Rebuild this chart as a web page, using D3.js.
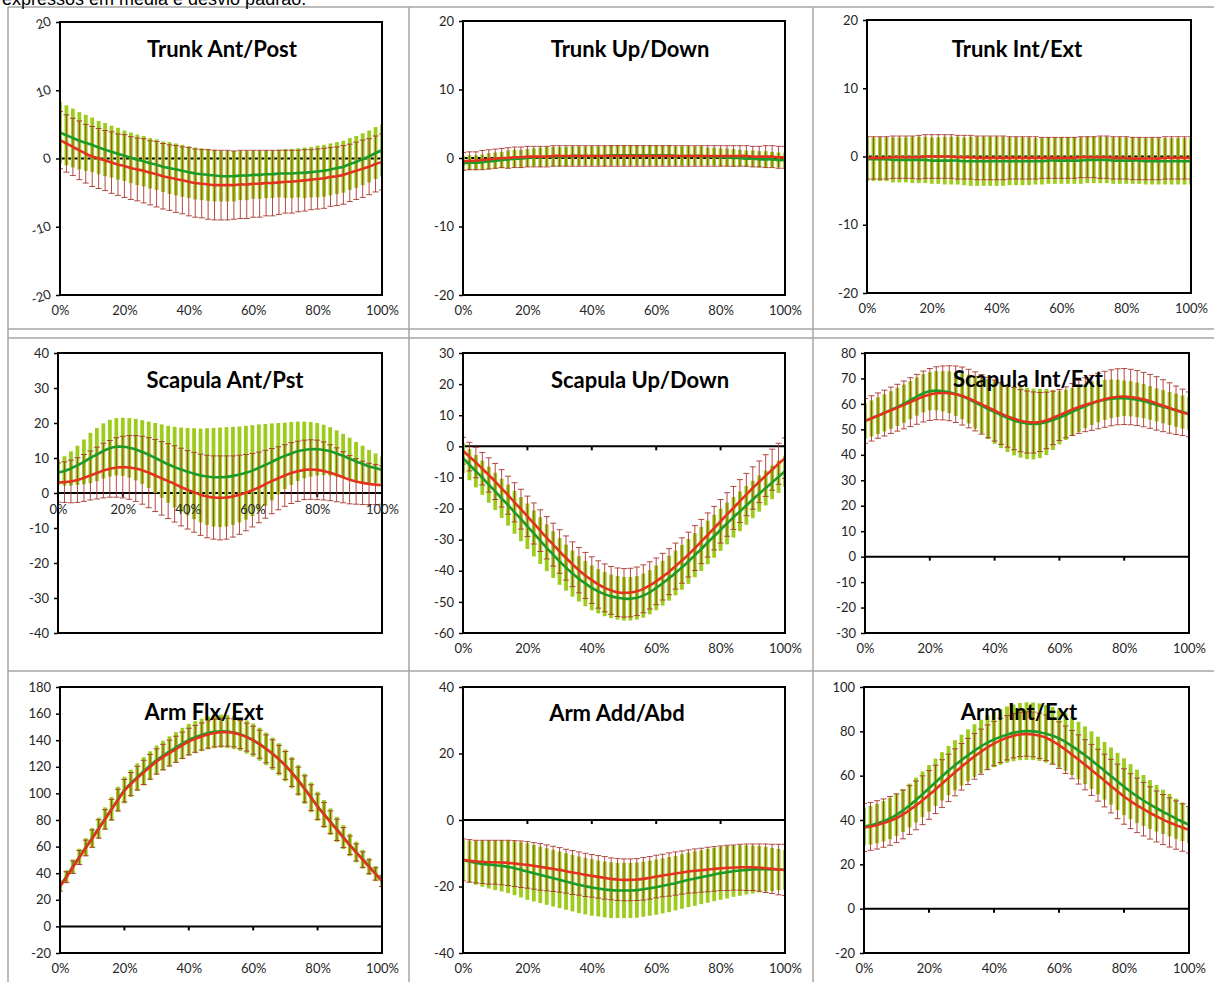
<!DOCTYPE html>
<html>
<head>
<meta charset="utf-8">
<script src="https://cdn.jsdelivr.net/npm/d3@7"></script>
<style>
    body { margin: 0; background: #fff; }
    svg { display: block; }
    .tick text { font-family: Lato, 'Open Sans', sans-serif; font-size: 13px; fill: #262626; }
    .panel-title { font-family: Lato, sans-serif; font-weight: bold; font-size: 22px; fill: #000; }
    .caption { font-family: 'Liberation Sans', Arial, sans-serif; font-size: 18px; fill: #000; }
</style>
</head>
<body>
<svg id="chart" width="1214" height="982"></svg>
<script>
// cycle percentage of each sample
const pctSteps = [0,2,4,6,8,10,12,14,16,18,20,22,24,26,28,30,32,34,36,38,40,42,44,46,48,50,
    52,54,56,58,60,62,64,66,68,70,72,74,76,78,80,82,84,86,88,90,92,94,96,98,100];
const xTickValues = [0, 20, 40, 60, 80, 100];
const xTickLabels = ['0%', '20%', '40%', '60%', '80%', '100%'];

const panelTitles = ['Trunk Ant/Post', 'Trunk Up/Down', 'Trunk Int/Ext',
    'Scapula Ant/Pst', 'Scapula Up/Down', 'Scapula Int/Ext',
    'Arm Flx/Ext', 'Arm Add/Abd', 'Arm Int/Ext'];
const panelYDomains = [[-20, 20], [-20, 20], [-20, 20], [-40, 40], [-60, 30], [-30, 80], [-20, 180], [-40, 40], [-20, 100]];
const panelYSteps = [10, 10, 10, 10, 10, 10, 20, 20, 20];

// Trunk Ant/Post
const trunkAPGreenMean = [3.8,3.4,3.0,2.6,2.3,2.0,1.6,1.3,1.0,0.7,0.4,0.1,-0.2,-0.4,-0.7,-0.9,-1.2,-1.4,-1.6,-1.8,
    -2.0,-2.2,-2.3,-2.4,-2.5,-2.6,-2.6,-2.6,-2.5,-2.5,-2.4,-2.4,-2.3,-2.3,-2.2,-2.2,-2.2,-2.1,-2.1,-2.0,
    -1.9,-1.8,-1.6,-1.4,-1.2,-0.8,-0.5,-0.1,0.3,0.8,1.2];
const trunkAPGreenSd = [4.5,4.4,4.3,4.2,4.1,4.0,3.9,3.9,3.8,3.8,3.7,3.7,3.7,3.7,3.7,3.7,3.7,3.8,3.8,3.8,
    3.8,3.8,3.8,3.8,3.8,3.7,3.7,3.7,3.6,3.6,3.5,3.5,3.5,3.5,3.5,3.6,3.6,3.6,3.7,3.7,
    3.8,3.8,3.8,3.8,3.8,3.8,3.8,3.8,3.8,3.8,3.8];
const trunkAPRedMean = [2.7,2.2,1.7,1.2,0.7,0.3,0.0,-0.3,-0.6,-0.9,-1.1,-1.4,-1.6,-1.8,-2.1,-2.3,-2.6,-2.8,-3.0,-3.2,
    -3.4,-3.6,-3.7,-3.8,-3.9,-3.9,-3.9,-3.9,-3.8,-3.8,-3.7,-3.7,-3.6,-3.6,-3.5,-3.4,-3.4,-3.3,-3.2,-3.1,
    -3.0,-2.9,-2.7,-2.6,-2.4,-2.1,-1.8,-1.5,-1.2,-0.8,-0.5];
const trunkAPRedSd = [4.2,4.2,4.2,4.3,4.3,4.4,4.4,4.4,4.5,4.5,4.6,4.6,4.6,4.7,4.7,4.8,4.8,4.8,4.9,4.9,
    5.0,5.0,5.0,5.1,5.1,5.1,5.1,5.0,5.0,5.0,4.9,4.9,4.8,4.8,4.7,4.6,4.6,4.5,4.5,4.4,
    4.4,4.4,4.3,4.3,4.3,4.2,4.2,4.2,4.1,4.1,4.1];

// Trunk Up/Down
const trunkUDGreenMean = [-0.8,-0.7,-0.7,-0.6,-0.5,-0.4,-0.3,-0.2,-0.1,-0.1,0.0,0.1,0.1,0.2,0.2,0.2,0.2,0.3,0.3,0.3,
    0.3,0.3,0.3,0.4,0.4,0.4,0.4,0.4,0.4,0.4,0.4,0.4,0.4,0.3,0.3,0.3,0.3,0.3,0.2,0.2,
    0.1,0.1,0.0,0.0,-0.1,-0.1,-0.2,-0.2,-0.2,-0.3,-0.3];
const trunkUDGreenSd = [1.1,1.1,1.1,1.1,1.2,1.2,1.2,1.3,1.3,1.3,1.3,1.3,1.4,1.4,1.4,1.4,1.4,1.4,1.4,1.4,
    1.4,1.4,1.5,1.5,1.5,1.5,1.5,1.5,1.5,1.5,1.5,1.5,1.5,1.4,1.4,1.4,1.4,1.4,1.3,1.3,
    1.3,1.3,1.3,1.2,1.2,1.2,1.2,1.2,1.1,1.1,1.1];
const trunkUDRedMean = [-0.5,-0.4,-0.4,-0.3,-0.2,-0.1,0.0,0.0,0.1,0.1,0.2,0.2,0.2,0.2,0.3,0.3,0.3,0.3,0.3,0.3,
    0.3,0.3,0.3,0.3,0.3,0.3,0.3,0.3,0.3,0.3,0.3,0.3,0.3,0.3,0.3,0.3,0.3,0.3,0.3,0.3,
    0.3,0.3,0.3,0.3,0.3,0.2,0.2,0.2,0.2,0.1,0.1];
const trunkUDRedSd = [1.3,1.3,1.3,1.4,1.4,1.4,1.4,1.5,1.5,1.5,1.5,1.5,1.5,1.5,1.5,1.5,1.5,1.5,1.5,1.5,
    1.5,1.5,1.5,1.5,1.5,1.5,1.5,1.5,1.5,1.5,1.5,1.5,1.5,1.5,1.5,1.5,1.5,1.5,1.5,1.5,
    1.5,1.5,1.5,1.5,1.5,1.5,1.5,1.6,1.6,1.6,1.6];

// Trunk Int/Ext
const trunkIEGreenMean = [-0.4,-0.4,-0.4,-0.4,-0.5,-0.5,-0.5,-0.5,-0.5,-0.5,-0.6,-0.6,-0.6,-0.6,-0.6,-0.7,-0.7,-0.7,-0.7,-0.7,
    -0.7,-0.7,-0.7,-0.7,-0.7,-0.7,-0.7,-0.7,-0.6,-0.6,-0.6,-0.6,-0.6,-0.6,-0.5,-0.5,-0.5,-0.5,-0.6,-0.6,
    -0.6,-0.6,-0.6,-0.7,-0.7,-0.7,-0.7,-0.7,-0.7,-0.7,-0.7];
const trunkIEGreenSd = [3.2,3.2,3.2,3.2,3.3,3.3,3.3,3.4,3.4,3.4,3.4,3.4,3.5,3.5,3.5,3.5,3.6,3.6,3.6,3.6,
    3.6,3.6,3.5,3.5,3.5,3.5,3.4,3.4,3.4,3.4,3.4,3.4,3.4,3.4,3.4,3.4,3.4,3.4,3.4,3.4,
    3.4,3.4,3.4,3.4,3.4,3.4,3.4,3.4,3.4,3.4,3.4];
const trunkIERedMean = [-0.2,-0.2,-0.2,-0.2,-0.1,-0.1,-0.1,-0.1,-0.1,0.0,0.0,0.0,0.0,0.0,-0.1,-0.1,-0.1,-0.2,-0.2,-0.2,
    -0.2,-0.2,-0.2,-0.2,-0.2,-0.2,-0.2,-0.2,-0.2,-0.2,-0.2,-0.2,-0.2,-0.1,-0.1,-0.1,-0.1,-0.1,-0.2,-0.2,
    -0.2,-0.3,-0.3,-0.3,-0.3,-0.3,-0.2,-0.2,-0.2,-0.2,-0.2];
const trunkIERedSd = [3.1,3.1,3.1,3.1,3.1,3.1,3.1,3.1,3.2,3.2,3.2,3.2,3.2,3.2,3.2,3.2,3.2,3.2,3.2,3.2,
    3.2,3.2,3.1,3.1,3.1,3.1,3.1,3.0,3.0,3.0,3.0,3.0,3.0,3.0,3.0,3.0,3.1,3.1,3.1,3.1,
    3.1,3.1,3.1,3.1,3.1,3.1,3.1,3.1,3.1,3.1,3.1];

// Scapula Ant/Pst
const scapAPGreenMean = [5.9,6.3,7.0,7.9,8.9,10.0,11.0,12.0,12.8,13.2,13.2,12.9,12.4,11.7,10.9,10.0,9.1,8.2,7.4,6.7,
    6.1,5.5,5.0,4.7,4.5,4.5,4.6,4.9,5.3,5.8,6.4,7.2,8.0,8.9,9.8,10.6,11.3,11.9,12.3,12.5,
    12.5,12.3,11.9,11.3,10.6,9.8,9.0,8.3,7.6,7.1,6.6];
const scapAPGreenSd = [3.6,4.2,4.9,5.6,6.4,7.2,7.6,7.9,8.1,8.2,8.3,8.5,8.8,9.1,9.5,10.0,10.5,11.0,11.5,12.0,
    12.5,13.0,13.4,13.8,14.1,14.2,14.2,14.0,13.7,13.4,13.0,12.4,11.7,11.0,10.2,9.5,9.0,8.5,8.1,7.8,
    7.5,7.2,6.9,6.6,6.3,6.0,5.6,5.2,4.7,4.2,3.8];
const scapAPRedMean = [3.0,3.1,3.3,3.7,4.3,5.0,5.7,6.4,6.9,7.3,7.4,7.3,7.0,6.5,5.8,5.0,4.2,3.4,2.6,1.7,
    0.9,0.2,-0.5,-1.0,-1.3,-1.4,-1.3,-1.0,-0.5,0.1,0.8,1.6,2.5,3.4,4.2,5.0,5.7,6.2,6.6,6.7,
    6.6,6.3,5.8,5.2,4.5,3.8,3.3,2.9,2.6,2.4,2.3];
const scapAPRedSd = [5.6,5.8,6.1,6.4,6.7,7.0,7.4,7.8,8.1,8.5,8.8,9.1,9.4,9.7,10.0,10.3,10.5,10.7,10.9,11.1,
    11.2,11.4,11.6,11.8,11.9,12.0,11.9,11.6,11.3,10.9,10.5,10.1,9.7,9.3,9.0,8.8,8.7,8.6,8.5,8.5,
    8.5,8.3,8.0,7.7,7.3,6.9,6.5,6.2,5.9,5.7,5.5];

// Scapula Up/Down
const scapUDGreenMean = [-3.8,-5.9,-8.0,-10.1,-12.3,-14.5,-16.7,-18.9,-21.2,-23.4,-25.7,-28.0,-30.3,-32.6,-34.8,-37.0,-39.0,-40.9,-42.6,-44.1,
    -45.5,-46.6,-47.5,-48.2,-48.7,-49.0,-49.0,-48.7,-48.0,-46.9,-45.5,-44.0,-42.4,-40.7,-38.9,-37.0,-35.0,-33.0,-30.9,-28.9,
    -26.8,-24.8,-22.8,-20.9,-19.0,-17.1,-15.2,-13.4,-11.6,-9.8,-8.0];
const scapUDGreenSd = [4.8,5.0,5.2,5.5,5.8,6.0,6.3,6.6,6.9,7.1,7.3,7.4,7.5,7.5,7.5,7.5,7.4,7.4,7.3,7.3,
    7.2,7.1,7.1,7.0,7.0,7.0,7.0,7.0,7.1,7.1,7.2,7.2,7.2,7.2,7.2,7.2,7.1,7.1,7.0,6.9,
    6.8,6.7,6.5,6.4,6.2,6.0,5.8,5.6,5.4,5.2,5.0];
const scapUDRedMean = [-1.4,-3.3,-5.2,-7.2,-9.2,-11.3,-13.5,-15.7,-18.0,-20.2,-22.5,-24.8,-27.1,-29.4,-31.6,-33.8,-35.9,-37.9,-39.8,-41.5,
    -43.0,-44.4,-45.5,-46.3,-46.9,-47.1,-47.0,-46.6,-45.8,-44.7,-43.4,-41.9,-40.3,-38.5,-36.7,-34.8,-32.7,-30.6,-28.5,-26.3,
    -24.1,-21.9,-19.8,-17.6,-15.5,-13.4,-11.4,-9.4,-7.5,-5.6,-3.8];
const scapUDRedSd = [4.3,4.6,4.9,5.2,5.5,5.8,6.0,6.1,6.3,6.4,6.5,6.6,6.7,6.8,6.9,7.0,7.1,7.2,7.3,7.4,
    7.5,7.6,7.7,7.7,7.8,7.8,7.8,7.8,7.7,7.6,7.5,7.5,7.4,7.4,7.3,7.2,7.2,7.1,7.1,7.0,
    7.0,7.0,6.9,6.9,6.8,6.8,6.7,6.7,6.6,6.6,6.5];

// Scapula Int/Ext
const scapIEGreenMean = [53.3,54.3,55.4,56.5,57.6,58.8,60.1,61.5,62.9,64.2,65.0,65.2,65.0,64.6,63.9,63.0,61.9,60.6,59.3,58.0,
    56.8,55.6,54.5,53.5,52.8,52.3,52.1,52.3,52.9,53.7,54.6,55.7,56.9,58.0,59.2,60.2,61.0,61.6,62.0,62.2,
    62.2,62.0,61.6,61.1,60.4,59.6,58.9,58.2,57.5,56.8,56.2];
const scapIEGreenSd = [7.0,7.1,7.2,7.3,7.4,7.5,7.5,7.5,7.5,7.5,7.5,7.7,7.9,8.2,8.6,9.0,9.6,10.3,11.0,11.8,
    12.5,13.0,13.4,13.7,13.9,14.0,13.9,13.6,13.0,11.8,10.5,9.9,9.4,9.0,8.7,8.5,8.2,7.9,7.6,7.3,
    7.0,6.9,6.8,6.7,6.6,6.5,6.5,6.5,6.5,6.5,6.5];
const scapIERedMean = [53.3,54.3,55.4,56.4,57.5,58.5,59.6,60.7,61.8,62.9,63.7,64.2,64.3,64.2,63.8,63.1,62.1,61.0,59.8,58.6,
    57.4,56.2,55.1,54.2,53.4,52.9,52.7,52.9,53.5,54.5,55.6,56.7,57.8,58.8,59.7,60.4,61.1,61.8,62.4,62.8,
    62.9,62.7,62.3,61.7,61.0,60.2,59.3,58.4,57.5,56.7,55.9];
const scapIERedSd = [8.8,8.9,8.9,9.0,9.1,9.2,9.4,9.6,9.8,10.0,10.2,10.4,10.6,10.8,11.1,11.4,11.5,11.6,11.7,11.9,
    12.0,12.1,12.1,12.2,12.2,12.2,12.0,11.6,11.1,10.5,10.0,10.0,10.2,10.4,10.6,10.8,10.9,11.0,11.0,11.0,
    11.0,10.9,10.8,10.7,10.6,10.5,10.2,9.9,9.5,9.1,8.8];

// Arm Flx/Ext
const armFEGreenMean = [30.5,37.5,45,52.3,59.5,66.5,73.8,81,88.3,95.5,102.5,107.6,112.2,116.6,120.9,125,128.4,131.5,134.5,137.5,
    140.3,142.3,144,145.4,146.3,146.7,146.5,145.8,144.4,142.4,140,137,133.5,129.8,125.6,121,115.6,109.8,103.5,97,
    90.3,84.5,78.7,72.9,67.1,61.3,55.9,50.5,45.1,39.7,34.3];
const armFEGreenSd = [4,4.7,5.4,6.1,6.8,7.5,8,8.5,9,9.5,10,10.2,10.4,10.6,10.8,11,11.2,11.4,11.6,11.8,
    12,12.1,12.2,12.3,12.4,12.5,12.5,12.5,12.5,12.5,12.5,12.4,12.3,12.2,12.1,12,11.8,11.6,11.4,11.2,
    11,10.5,10,9.5,9,8.5,7.8,7.1,6.4,5.7,5];
const armFERedMean = [30,37,44.5,51.8,59,66,73.3,80.5,87.8,95,102,107,111.5,115.8,120,124,127.3,130.3,133.2,136.2,
    139,141,142.8,144.3,145.4,146,146,145.5,144.2,142.3,140,137,133.5,129.8,125.6,121,115.5,109.6,103.3,96.8,
    90,84.2,78.4,72.6,66.8,61,55.6,50.2,44.8,39.4,34];
const armFERedSd = [3.5,4.1,4.7,5.3,5.9,6.5,6.9,7.3,7.7,8.1,8.5,8.7,8.9,9.1,9.3,9.5,9.6,9.7,9.8,9.9,
    10,10.1,10.2,10.3,10.4,10.5,10.5,10.5,10.5,10.5,10.5,10.5,10.5,10.5,10.5,10.5,10.3,10.1,9.9,9.7,
    9.5,9,8.5,8,7.5,7,6.4,5.8,5.2,4.6,4];

// Arm Add/Abd
const armAAGreenMean = [-12.0,-12.5,-12.9,-13.2,-13.4,-13.6,-13.8,-14.1,-14.5,-15.0,-15.5,-16.0,-16.5,-17.0,-17.5,-18.0,-18.5,-19.0,-19.5,-19.9,
    -20.3,-20.6,-20.9,-21.1,-21.2,-21.2,-21.2,-21.1,-20.8,-20.5,-20.2,-19.8,-19.4,-19.0,-18.5,-18.0,-17.6,-17.2,-16.8,-16.4,
    -16.0,-15.7,-15.4,-15.2,-15.0,-14.9,-14.8,-14.8,-14.9,-14.9,-15.0];
const armAAGreenSd = [6.0,6.3,6.6,6.9,7.2,7.5,7.7,7.9,8.1,8.3,8.5,8.5,8.5,8.5,8.5,8.5,8.5,8.5,8.5,8.5,
    8.5,8.4,8.4,8.4,8.3,8.3,8.3,8.3,8.3,8.3,8.3,8.3,8.3,8.2,8.2,8.2,8.2,8.1,8.1,8.0,
    8.0,7.9,7.7,7.6,7.4,7.2,7.0,6.7,6.5,6.2,6.0];
const armAARedMean = [-12.0,-12.3,-12.5,-12.6,-12.7,-12.7,-12.8,-12.9,-13.1,-13.3,-13.5,-13.8,-14.1,-14.4,-14.7,-15.0,-15.4,-15.8,-16.1,-16.5,
    -16.8,-17.1,-17.4,-17.7,-17.9,-18.0,-18.0,-17.9,-17.7,-17.4,-17.0,-16.7,-16.4,-16.1,-15.8,-15.5,-15.3,-15.1,-14.9,-14.7,
    -14.5,-14.4,-14.3,-14.2,-14.2,-14.2,-14.3,-14.5,-14.7,-14.9,-15.0];
const armAARedSd = [6.3,6.4,6.4,6.5,6.6,6.6,6.7,6.8,6.9,7.0,7.0,7.0,7.0,6.9,6.8,6.7,6.6,6.6,6.5,6.5,
    6.4,6.4,6.4,6.3,6.3,6.3,6.3,6.3,6.4,6.4,6.4,6.4,6.5,6.5,6.5,6.5,6.6,6.6,6.7,6.7,
    6.7,6.8,6.8,6.9,7.0,7.0,7.1,7.3,7.4,7.6,7.7];

// Arm Int/Ext
const armIEGreenMean = [37.0,37.6,38.4,39.4,40.7,42.3,44.3,46.5,49.0,51.6,54.3,57.0,59.7,62.3,64.7,67.0,69.2,71.3,73.2,74.9,
    76.3,77.5,78.5,79.3,79.9,80.1,80.0,79.6,78.9,78.0,76.8,75.2,73.3,71.3,69.2,67.0,64.6,62.2,59.8,57.4,
    55.0,52.8,50.7,48.8,47.0,45.3,43.7,42.2,40.6,39.2,37.8];
const armIEGreenSd = [8.5,8.7,8.9,9.1,9.3,9.5,9.7,9.9,10.1,10.3,10.5,10.7,10.9,11.1,11.3,11.5,11.7,11.9,12.1,12.3,
    12.5,12.6,12.7,12.8,12.9,13.0,13.0,13.0,13.0,13.0,13.0,13.0,13.0,13.0,13.0,13.0,13.0,13.0,12.9,12.9,
    12.8,12.4,12.0,11.5,11.0,10.5,10.0,9.6,9.1,8.7,8.2];
const armIERedMean = [36.6,37.1,37.8,38.6,39.6,40.8,42.5,44.5,46.6,48.9,51.3,53.8,56.4,59.0,61.5,64.0,66.4,68.7,70.8,72.8,
    74.5,75.9,77.1,78.0,78.6,78.8,78.6,78.0,77.1,75.6,73.8,71.7,69.5,67.3,64.9,62.6,60.2,57.8,55.3,52.9,
    50.6,48.5,46.6,44.9,43.2,41.6,40.2,38.9,37.7,36.6,35.6];
const armIERedSd = [10.8,10.8,10.9,10.9,11.0,11.0,11.0,11.0,11.0,11.0,11.0,10.9,10.8,10.7,10.6,10.5,10.4,10.3,10.2,10.1,
    10.0,10.0,10.0,10.0,10.0,10.0,10.1,10.2,10.3,10.4,10.5,10.7,10.9,11.1,11.3,11.5,11.7,11.9,12.1,12.3,
    12.5,12.4,12.3,12.1,11.8,11.5,11.3,11.1,10.9,10.7,10.5];

const panelSeries = [
    [trunkAPGreenMean, trunkAPGreenSd, trunkAPRedMean, trunkAPRedSd],
    [trunkUDGreenMean, trunkUDGreenSd, trunkUDRedMean, trunkUDRedSd],
    [trunkIEGreenMean, trunkIEGreenSd, trunkIERedMean, trunkIERedSd],
    [scapAPGreenMean, scapAPGreenSd, scapAPRedMean, scapAPRedSd],
    [scapUDGreenMean, scapUDGreenSd, scapUDRedMean, scapUDRedSd],
    [scapIEGreenMean, scapIEGreenSd, scapIERedMean, scapIERedSd],
    [armFEGreenMean, armFEGreenSd, armFERedMean, armFERedSd],
    [armAAGreenMean, armAAGreenSd, armAARedMean, armAARedSd],
    [armIEGreenMean, armIEGreenSd, armIERedMean, armIERedSd]
];

// plot boxes as measured on the page
const panelLayout = [
    {left: 60, right: 382, top: 22, bottom: 295, titleX: 222, titleY: 57, tilt: true},
    {left: 463, right: 785, top: 21, bottom: 295, titleX: 630, titleY: 57},
    {left: 867, right: 1191, top: 20, bottom: 293, titleX: 1017, titleY: 57},
    {left: 58, right: 382, top: 353, bottom: 633, titleX: 225, titleY: 388, labelsAtZero: true},
    {left: 463, right: 785, top: 353, bottom: 633, titleX: 640, titleY: 388},
    {left: 865, right: 1189, top: 353, bottom: 633, titleX: 1028, titleY: 387},
    {left: 60, right: 382, top: 687, bottom: 953, titleX: 204, titleY: 720},
    {left: 463, right: 785, top: 687, bottom: 953, titleX: 617, titleY: 721},
    {left: 864, right: 1189, top: 687, bottom: 953, titleX: 1019, titleY: 720}
];

const colors = {
    greenBar: '#9dcc1c',
    greenLine: '#1e9a28',
    redBar: '#a8352f',
    redLine: '#e2341d'
};

class MotionPanel {

    constructor(_config, _data) {
        this.config = {
            parent: _config.parent,
            index: _config.index,
            layout: _config.layout,
            title: _config.title,
            yDomain: _config.yDomain,
            yStep: _config.yStep
        };
        this.data = _data;
        this.initVis();
    }

    initVis() {
        let vis = this;
        const b = vis.config.layout;

        vis.xScale = d3.scaleLinear().domain([0, 100]).range([b.left, b.right]);
        vis.yScale = d3.scaleLinear().domain(vis.config.yDomain).range([b.bottom, b.top]);

        vis.chart = vis.config.parent.append('g');

        vis.clipId = 'clip-' + vis.config.index;
        vis.chart.append('clipPath')
            .attr('id', vis.clipId)
            .append('rect')
            .attr('x', b.left)
            .attr('y', b.top)
            .attr('width', b.right - b.left)
            .attr('height', b.bottom - b.top);

        vis.renderVis();
    }

    renderVis() {
        let vis = this;
        const b = vis.config.layout;
        const x = vis.xScale, y = vis.yScale;
        const [gMean, gSd, rMean, rSd] = vis.data;

        // horizontal axis crossing at 0
        vis.chart.append('line')
            .attr('x1', b.left).attr('x2', b.right)
            .attr('y1', y(0)).attr('y2', y(0))
            .attr('stroke', '#000')
            .attr('stroke-width', 2);

        vis.chart.selectAll('.zero-tick')
            .data(xTickValues)
            .enter()
            .append('line')
            .attr('class', 'zero-tick')
            .attr('x1', d => x(d)).attr('x2', d => x(d))
            .attr('y1', y(0)).attr('y2', y(0) + 4)
            .attr('stroke', '#000')
            .attr('stroke-width', 2);

        const plot = vis.chart.append('g').attr('clip-path', `url(#${vis.clipId})`);

        // green SD bars
        plot.selectAll('.g-bar')
            .data(pctSteps)
            .enter()
            .append('rect')
            .attr('class', 'g-bar')
            .attr('x', d => x(d) - 1.9)
            .attr('width', 3.8)
            .attr('y', (d, i) => y(gMean[i] + gSd[i]))
            .attr('height', (d, i) => y(gMean[i] - gSd[i]) - y(gMean[i] + gSd[i]))
            .attr('fill', colors.greenBar);

        // red SD error bars with caps
        plot.selectAll('.r-bar')
            .data(pctSteps)
            .enter()
            .append('path')
            .attr('class', 'r-bar')
            .attr('d', (d, i) => {
                const cx = x(d);
                const top = y(rMean[i] + rSd[i]);
                const bot = y(rMean[i] - rSd[i]);
                return `M${cx},${top}V${bot}M${cx - 3},${top}H${cx + 3}M${cx - 3},${bot}H${cx + 3}`;
            })
            .attr('fill', 'none')
            .attr('stroke', colors.redBar)
            .attr('stroke-width', 0.9);

        const line = mean => d3.line()
            .x(d => x(d))
            .y((d, i) => y(mean[i]))
            .curve(d3.curveCatmullRom)(pctSteps);

        plot.append('path')
            .attr('d', line(gMean))
            .attr('fill', 'none')
            .attr('stroke', colors.greenLine)
            .attr('stroke-width', 2.6);

        plot.append('path')
            .attr('d', line(rMean))
            .attr('fill', 'none')
            .attr('stroke', colors.redLine)
            .attr('stroke-width', 2.6);

        // plot frame
        vis.chart.append('rect')
            .attr('x', b.left).attr('y', b.top)
            .attr('width', b.right - b.left)
            .attr('height', b.bottom - b.top)
            .attr('fill', 'none')
            .attr('stroke', '#000')
            .attr('stroke-width', 2);

        // y axis (plain hyphen for negatives, as in the source)
        const yTicks = d3.range(vis.config.yDomain[0], vis.config.yDomain[1] + 0.001, vis.config.yStep);
        const yAxis = vis.chart.append('g')
            .attr('transform', `translate(${b.left},0)`)
            .call(d3.axisLeft(y).tickValues(yTicks).tickSize(4).tickPadding(5).tickFormat(d => String(d)));
        yAxis.select('.domain').remove();
        yAxis.selectAll('.tick line').attr('stroke', '#000').attr('stroke-width', 1.5);
        if (b.tilt) {
            yAxis.selectAll('.tick text')
                .attr('transform', 'rotate(-18,-14,0)');
        }

        // x labels (below the plot, or at the zero line)
        const xBase = b.labelsAtZero ? y(0) : b.bottom;
        const xAxis = vis.chart.append('g')
            .attr('transform', `translate(0,${xBase})`)
            .call(d3.axisBottom(x).tickValues(xTickValues).tickSize(0).tickPadding(b.labelsAtZero ? 12 : 11)
                .tickFormat((d, i) => xTickLabels[i]));
        xAxis.select('.domain').remove();

        vis.chart.append('text')
            .attr('class', 'panel-title')
            .attr('x', b.titleX)
            .attr('y', b.titleY)
            .attr('text-anchor', 'middle')
            .text(vis.config.title);
    }
}

const svg = d3.select('#chart');

// cell borders of the surrounding table
const borderColor = '#a6a6a6';
const hLines = [[8, 1214, 7], [8, 1214, 329], [8, 1214, 338], [8, 1214, 671]];
const vLines = [[8, 7, 982], [409, 7, 982], [813, 7, 982]];
hLines.forEach(([x1, x2, yy]) => svg.append('line')
    .attr('x1', x1).attr('x2', x2).attr('y1', yy).attr('y2', yy)
    .attr('stroke', borderColor).attr('stroke-width', 1.5));
vLines.forEach(([xx, y1, y2]) => svg.append('line')
    .attr('x1', xx).attr('x2', xx).attr('y1', y1).attr('y2', y2)
    .attr('stroke', borderColor).attr('stroke-width', 1.5));

// the caption sits half above the page edge, as on the source page
svg.append('text')
    .attr('class', 'caption')
    .attr('x', 2)
    .attr('y', 5)
    .text('expressos em média e desvio padrão.');

panelTitles.forEach((title, i) => {
    new MotionPanel({
        parent: svg,
        index: i,
        layout: panelLayout[i],
        title: title,
        yDomain: panelYDomains[i],
        yStep: panelYSteps[i]
    }, panelSeries[i]);
});
</script>
</body>
</html>
